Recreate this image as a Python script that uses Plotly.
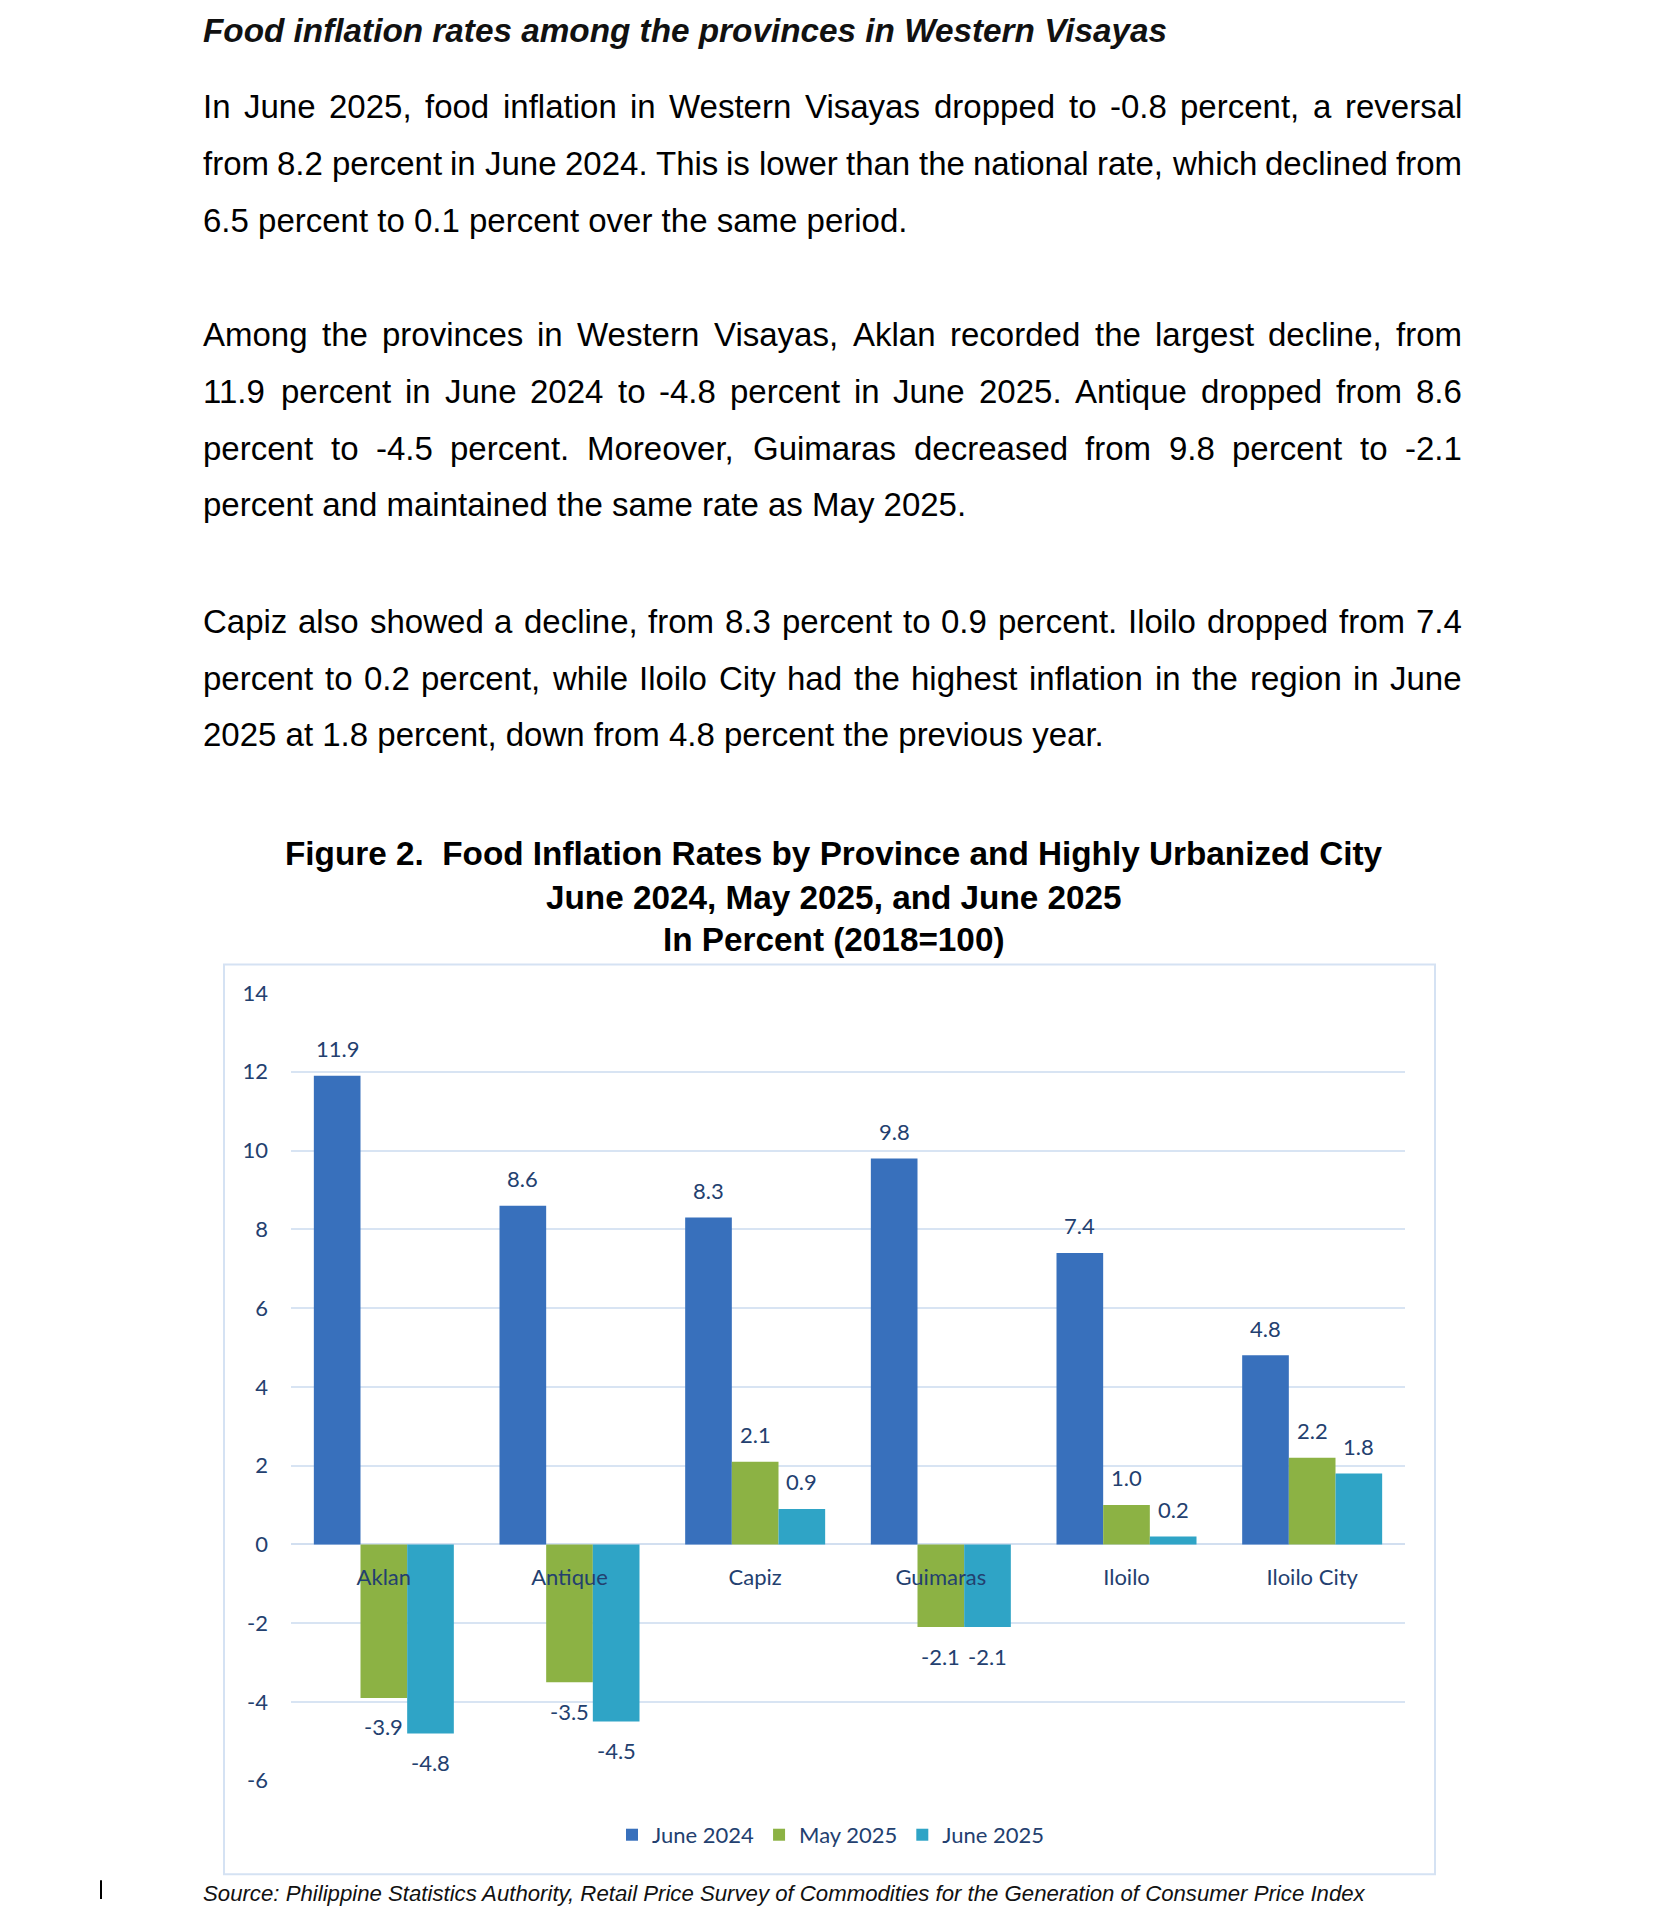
import plotly.graph_objects as go

W, H = 1654, 1912

# ---------------- data ----------------
categories = ["Aklan", "Antique", "Capiz", "Guimaras", "Iloilo", "Iloilo City"]
series_names = ["June 2024", "May 2025", "June 2025"]
june_2024 = [11.9, 8.6, 8.3, 9.8, 7.4, 4.8]
may_2025 = [-3.9, -3.5, 2.1, -2.1, 1.0, 2.2]
june_2025 = [-4.8, -4.5, 0.9, -2.1, 0.2, 1.8]
y_ticks = [-6, -4, -2, 0, 2, 4, 6, 8, 10, 12, 14]
y_tick_labels = ["-6", "-4", "-2", "0", "2", "4", "6", "8", "10", "12", "14"]

heading = "Food inflation rates among the provinces in Western Visayas"
paragraphs = [
    ["In June 2025, food inflation in Western Visayas dropped to -0.8 percent, a reversal",
     "from 8.2 percent in June 2024. This is lower than the national rate, which declined from",
     "6.5 percent to 0.1 percent over the same period."],
    ["Among the provinces in Western Visayas, Aklan recorded the largest decline, from",
     "11.9 percent in June 2024 to -4.8 percent in June 2025. Antique dropped from 8.6",
     "percent to -4.5 percent. Moreover, Guimaras decreased from 9.8 percent to -2.1",
     "percent and maintained the same rate as May 2025."],
    ["Capiz also showed a decline, from 8.3 percent to 0.9 percent. Iloilo dropped from 7.4",
     "percent to 0.2 percent, while Iloilo City had the highest inflation in the region in June",
     "2025 at 1.8 percent, down from 4.8 percent the previous year."],
]
fig_title_lines = ["Figure 2.  Food Inflation Rates by Province and Highly Urbanized City",
                   "June 2024, May 2025, and June 2025",
                   "In Percent (2018=100)"]
source_text = ("Source: Philippine Statistics Authority, Retail Price Survey of Commodities "
               "for the Generation of Consumer Price Index")

# ---------------- styles ----------------
series_colors = ["#3870BC", "#8CB244", "#2FA4C6"]
chart_text = "#23406F"
grid_col = "#D8E4F3"
chart_font = "Lato"
doc_font = "Liberation Sans"

def px_x(x):
    return x / W

def px_y(y):
    return 1 - y / H

# plot area (pixels)
PL, PR, PT, PB = 291, 1405, 993, 1792
ymin, ymax = -6, 14
zero_y = px_y(PB) + (0 - ymin) / (ymax - ymin) * (px_y(PT) - px_y(PB))

fig = go.Figure()
for name, vals, col in zip(series_names, [june_2024, may_2025, june_2025], series_colors):
    fig.add_trace(go.Bar(x=categories, y=vals, name=name, marker=dict(color=col, line=dict(width=0))))

annotations = []
shapes = []

# data labels
bargap = 0.246
cat_w = (PR - PL) / len(categories)
bar_w = cat_w * (1 - bargap) / 3
for k, vals in enumerate([june_2024, may_2025, june_2025]):
    for c, v in zip(categories, vals):
        annotations.append(dict(
            x=c, y=v, xref="x", yref="y", text=f"{v:.1f}", showarrow=False,
            xshift=(k - 1) * bar_w, yshift=27 if v >= 0 else -29,
            yanchor="middle", xanchor="center",
            font=dict(family=chart_font, size=22, color=chart_text)))

# Arial / Liberation Sans advance widths (per 1000 em)
AW = {' ': 278, ',': 278, '-': 333, '.': 278, '(': 333, ')': 333, '=': 584}
for ch in "0123456789":
    AW[ch] = 556
AW.update(dict(A=667, B=667, C=722, D=722, E=667, F=611, G=778, H=722, I=278, J=500, K=667,
               L=556, M=833, N=722, O=778, P=667, Q=778, R=722, S=667, T=611, U=722, V=667,
               W=944, X=667, Y=667, Z=611))
AW.update(dict(a=556, b=556, c=500, d=556, e=556, f=278, g=556, h=556, i=222, j=222, k=500,
               l=222, m=833, n=556, o=556, p=556, q=556, r=333, s=500, t=278, u=556, v=500,
               w=722, x=500, y=500, z=500))

def tw(s, size):
    return sum(AW.get(ch, 556) for ch in s) * size / 1000.0

BODY_SIZE = 33
LEFT, RIGHT = 202, 1461
line_y = [[94, 151.5, 209], [325, 383, 440.5, 498], [616, 674, 731]]

annotations.append(dict(x=px_x(LEFT), y=px_y(17), xref="paper", yref="paper",
                        text="<b><i>" + heading + "</i></b>", showarrow=False,
                        xanchor="left", yanchor="middle", borderpad=0,
                        font=dict(family=doc_font, size=33.3, color="#111111")))

for para, ys in zip(paragraphs, line_y):
    for li, (line, yy) in enumerate(zip(para, ys)):
        last = li == len(para) - 1
        if last:
            annotations.append(dict(x=px_x(LEFT), y=px_y(yy), xref="paper", yref="paper",
                                    text=line, showarrow=False, xanchor="left", yanchor="middle",
                                    borderpad=0,
                                    font=dict(family=doc_font, size=BODY_SIZE, color="#000000")))
        else:
            words = line.split(" ")
            widths = [tw(wd, BODY_SIZE) for wd in words]
            gap = (RIGHT - LEFT - sum(widths)) / (len(words) - 1)
            xcur = LEFT
            for wd, wdw in zip(words, widths):
                annotations.append(dict(x=px_x(xcur), y=px_y(yy), xref="paper", yref="paper",
                                        text=wd, showarrow=False, xanchor="left", yanchor="middle",
                                        borderpad=0,
                                        font=dict(family=doc_font, size=BODY_SIZE, color="#000000")))
                xcur += wdw + gap

for t, yy in zip(fig_title_lines, [852, 896, 939]):
    annotations.append(dict(x=px_x(834), y=px_y(yy), xref="paper", yref="paper",
                            text="<b>" + t + "</b>", showarrow=False, xanchor="center",
                            yanchor="middle", borderpad=0,
                            font=dict(family=doc_font, size=33.3, color="#000000")))

annotations.append(dict(x=px_x(LEFT), y=px_y(1906), xref="paper", yref="paper",
                        text="<i>" + source_text + "</i>", showarrow=False, xanchor="left",
                        yanchor="middle", borderpad=0,
                        font=dict(family=doc_font, size=22.2, color="#111111")))

# chart border
shapes.append(dict(type="rect", xref="paper", yref="paper", x0=px_x(224), x1=px_x(1435),
                   y0=px_y(1887), y1=px_y(964), line=dict(color="#D5E2F3", width=2),
                   fillcolor="rgba(0,0,0,0)", layer="below"))
# text cursor mark
shapes.append(dict(type="line", xref="paper", yref="paper", x0=px_x(101), x1=px_x(101),
                   y0=px_y(1912), y1=px_y(1893), line=dict(color="#000000", width=2)))

fig.update_layout(
    width=W, height=H, margin=dict(l=0, r=0, t=0, b=0, pad=0),
    paper_bgcolor="white", plot_bgcolor="white",
    barmode="group", bargap=bargap, bargroupgap=0,
    showlegend=True,
    legend=dict(orientation="h", x=px_x(831), xanchor="center", y=px_y(1847), yanchor="middle",
                font=dict(family=chart_font, size=22, color=chart_text),
                bgcolor="rgba(0,0,0,0)", itemclick=False, traceorder="normal"),
    xaxis=dict(domain=[px_x(PL), px_x(PR)], type="category", anchor="free", position=zero_y,
               showgrid=False, showline=False, ticks="", zeroline=False,
               tickfont=dict(family=chart_font, size=22, color=chart_text),
               ticklabelstandoff=18, layer="above traces", range=[-0.5, 5.5]),
    yaxis=dict(domain=[px_y(PB), px_y(PT)], range=[ymin, ymax], tickvals=y_ticks,
               ticktext=y_tick_labels,
               showgrid=True, gridcolor=grid_col, gridwidth=2,
               zeroline=True, zerolinecolor="#D2DFF0", zerolinewidth=2,
               showline=False, ticks="", ticklabelstandoff=22,
               tickfont=dict(family=chart_font, size=22, color=chart_text)),
    annotations=annotations, shapes=shapes,
)

fig.write_html("out.html", config={"displayModeBar": False},
               post_script="document.body.style.margin='0';")
